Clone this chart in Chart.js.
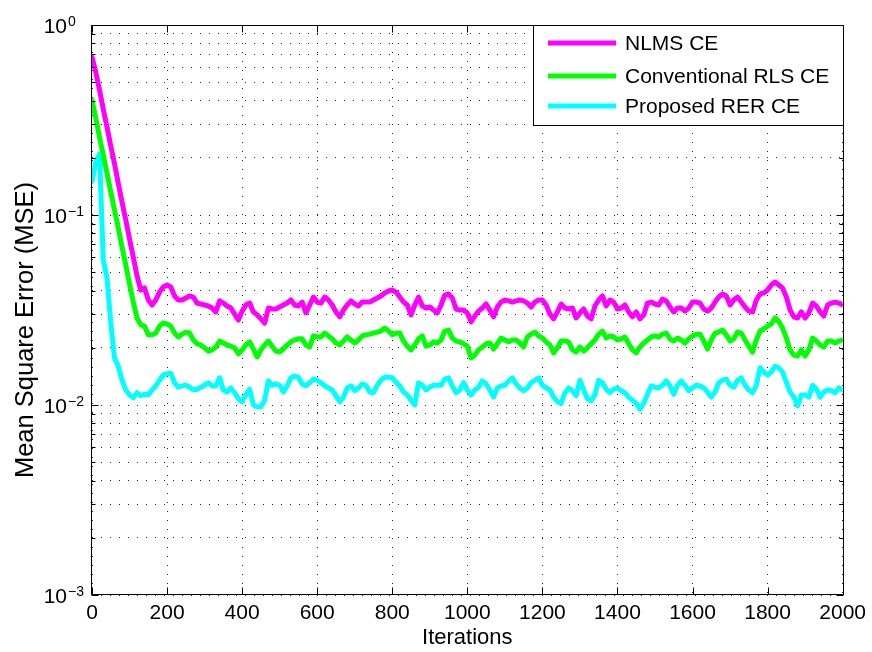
<!DOCTYPE html>
<html>
<head>
<meta charset="utf-8">
<script src="https://cdn.jsdelivr.net/npm/chart.js@4/dist/chart.umd.min.js"></script>
<style>
  body { margin: 0; background: #fff; }
  canvas { display: block; }
</style>
</head>
<body>
<canvas id="mseChart" width="872" height="652"></canvas>
<script>
// sampled every 10 iterations, 0..2000
const iterations = Array.from({ length: 201 }, (_, i) => i * 10);

const nlmsCE = [
  0.679, 0.566, 0.455, 0.361, 0.291, 0.231, 0.186, 0.147, 0.117, 0.094,
  0.0748, 0.0601, 0.0478, 0.0403, 0.0413, 0.0357, 0.0336, 0.0357, 0.0393, 0.0418,
  0.0428, 0.0418, 0.0375, 0.0357, 0.0357, 0.0366, 0.0375, 0.037, 0.0344, 0.034,
  0.0336, 0.0332, 0.0324, 0.0309, 0.0353, 0.0344, 0.0332, 0.0324, 0.0301, 0.028,
  0.0312, 0.0336, 0.0344, 0.0309, 0.0298, 0.0284, 0.027, 0.0324, 0.032, 0.032,
  0.0328, 0.0336, 0.0344, 0.0357, 0.0336, 0.0332, 0.0348, 0.0305, 0.0336, 0.037,
  0.0348, 0.0344, 0.037, 0.0357, 0.0336, 0.0309, 0.0291, 0.0316, 0.0336, 0.0353,
  0.034, 0.0332, 0.0348, 0.0348, 0.0348, 0.0357, 0.0366, 0.0375, 0.0389, 0.0398,
  0.0403, 0.0393, 0.037, 0.0348, 0.0336, 0.0298, 0.0336, 0.037, 0.0332, 0.0324,
  0.0328, 0.0316, 0.0305, 0.0336, 0.0379, 0.0384, 0.0366, 0.032, 0.0316, 0.0316,
  0.0305, 0.0274, 0.0294, 0.0312, 0.0324, 0.034, 0.0316, 0.0291, 0.0328, 0.0348,
  0.0357, 0.0353, 0.0348, 0.0353, 0.0357, 0.0353, 0.0344, 0.0328, 0.0348, 0.0357,
  0.0357, 0.0336, 0.0301, 0.0284, 0.0309, 0.034, 0.0324, 0.032, 0.0324, 0.0287,
  0.0305, 0.032, 0.0294, 0.0284, 0.0332, 0.0357, 0.0375, 0.0332, 0.0357, 0.0348,
  0.032, 0.0324, 0.0336, 0.0309, 0.0291, 0.0309, 0.0284, 0.0298, 0.0344, 0.0348,
  0.034, 0.0336, 0.0361, 0.0353, 0.0328, 0.0309, 0.0324, 0.0324, 0.0312, 0.0324,
  0.0348, 0.0348, 0.0344, 0.032, 0.0312, 0.0324, 0.0348, 0.037, 0.0384, 0.0375,
  0.0336, 0.0357, 0.037, 0.0348, 0.0328, 0.0312, 0.0309, 0.0357, 0.0384, 0.0389,
  0.0403, 0.0428, 0.0444, 0.0428, 0.0413, 0.037, 0.0316, 0.0291, 0.0287, 0.0309,
  0.0287, 0.0305, 0.0344, 0.0332, 0.0309, 0.0294, 0.0336, 0.0344, 0.0348, 0.0344,
  0.0336
];

const rlsCE = [
  0.403, 0.324, 0.257, 0.207, 0.166, 0.132, 0.106, 0.0855, 0.0679, 0.0546,
  0.0434, 0.0348, 0.0287, 0.0264, 0.026, 0.0234, 0.0234, 0.0239, 0.026, 0.027,
  0.0267, 0.026, 0.0239, 0.0228, 0.0236, 0.0242, 0.0239, 0.022, 0.021, 0.0207,
  0.02, 0.0192, 0.0195, 0.0202, 0.0217, 0.0212, 0.0207, 0.0204, 0.02, 0.0186,
  0.0195, 0.0207, 0.0215, 0.0197, 0.0179, 0.0195, 0.0207, 0.0217, 0.0204, 0.0192,
  0.019, 0.0197, 0.0207, 0.0215, 0.022, 0.0223, 0.0223, 0.0207, 0.0202, 0.0231,
  0.0228, 0.0228, 0.0239, 0.0231, 0.0223, 0.0212, 0.0207, 0.0217, 0.0228, 0.022,
  0.0212, 0.022, 0.0231, 0.0234, 0.0236, 0.0239, 0.0242, 0.0245, 0.0254, 0.0245,
  0.0234, 0.0239, 0.0239, 0.0217, 0.0204, 0.0195, 0.0207, 0.0223, 0.0231, 0.0204,
  0.0207, 0.0215, 0.0212, 0.022, 0.0245, 0.0248, 0.0225, 0.0217, 0.0215, 0.021,
  0.0204, 0.0177, 0.0183, 0.0195, 0.0202, 0.021, 0.0212, 0.0197, 0.021, 0.0225,
  0.022, 0.0215, 0.022, 0.022, 0.0212, 0.0202, 0.0228, 0.0236, 0.0242, 0.0231,
  0.0225, 0.0215, 0.0207, 0.0188, 0.02, 0.0217, 0.0217, 0.0215, 0.0195, 0.019,
  0.0202, 0.0192, 0.02, 0.021, 0.022, 0.0236, 0.0245, 0.0225, 0.0231, 0.0228,
  0.022, 0.0223, 0.0228, 0.021, 0.0195, 0.0188, 0.0202, 0.0212, 0.022, 0.0228,
  0.0231, 0.0228, 0.0236, 0.0239, 0.0223, 0.0217, 0.0225, 0.022, 0.0212, 0.0223,
  0.0231, 0.0236, 0.0236, 0.0217, 0.0197, 0.022, 0.0239, 0.0242, 0.0248, 0.0234,
  0.0217, 0.0223, 0.0242, 0.0239, 0.022, 0.0204, 0.019, 0.022, 0.0245, 0.0251,
  0.026, 0.0267, 0.0287, 0.0274, 0.0254, 0.0225, 0.0195, 0.0183, 0.0181, 0.0195,
  0.0181, 0.0195, 0.0225, 0.0217, 0.0207, 0.0202, 0.0217, 0.0217, 0.0212, 0.0217,
  0.022
];

const rerCE = [
  0.15, 0.19, 0.21, 0.058, 0.0466, 0.027, 0.0177, 0.016, 0.0135, 0.012,
  0.0113, 0.0109, 0.0116, 0.0112, 0.0114, 0.0113, 0.012, 0.0126, 0.0135, 0.0144,
  0.0146, 0.0147, 0.0131, 0.0124, 0.0126, 0.0127, 0.0124, 0.012, 0.0121, 0.0124,
  0.0127, 0.0131, 0.0126, 0.0126, 0.0139, 0.012, 0.0117, 0.0123, 0.0116, 0.0108,
  0.0104, 0.0113, 0.0121, 0.01, 0.0098, 0.0098, 0.0106, 0.0134, 0.0127, 0.0129,
  0.0127, 0.0117, 0.0126, 0.0139, 0.0142, 0.014, 0.0129, 0.0126, 0.0131, 0.0137,
  0.0135, 0.0131, 0.0126, 0.0123, 0.012, 0.0112, 0.0104, 0.011, 0.0123, 0.0126,
  0.0119, 0.0123, 0.0129, 0.0127, 0.0117, 0.0116, 0.0127, 0.0135, 0.014, 0.014,
  0.0139, 0.0132, 0.0126, 0.0117, 0.0113, 0.0106, 0.01, 0.0131, 0.0127, 0.012,
  0.0124, 0.0127, 0.0127, 0.0127, 0.0137, 0.0139, 0.0126, 0.0116, 0.012, 0.0131,
  0.012, 0.0113, 0.012, 0.0124, 0.0134, 0.0129, 0.012, 0.011, 0.0123, 0.0126,
  0.0127, 0.0134, 0.0139, 0.0129, 0.0123, 0.0119, 0.0123, 0.0131, 0.0135, 0.0139,
  0.0127, 0.0123, 0.012, 0.011, 0.0104, 0.0102, 0.0116, 0.0123, 0.0119, 0.0112,
  0.0135, 0.012, 0.0108, 0.0105, 0.0113, 0.0135, 0.0131, 0.0121, 0.0116, 0.0121,
  0.0123, 0.0119, 0.0116, 0.011, 0.0106, 0.0102, 0.0095, 0.0102, 0.0114, 0.0126,
  0.0124, 0.0123, 0.0127, 0.0134, 0.0126, 0.0114, 0.0127, 0.0134, 0.0127, 0.0119,
  0.0123, 0.0127, 0.0126, 0.0123, 0.0117, 0.011, 0.0117, 0.0131, 0.0135, 0.0137,
  0.0127, 0.0124, 0.0135, 0.0139, 0.0127, 0.012, 0.0116, 0.0127, 0.0157, 0.0149,
  0.0144, 0.0149, 0.016, 0.0157, 0.0149, 0.0132, 0.0117, 0.011, 0.0099, 0.0113,
  0.0113, 0.011, 0.0127, 0.0121, 0.011, 0.0117, 0.012, 0.0119, 0.0116, 0.0123,
  0.012
];

const seriesNames = ["NLMS CE", "Conventional RLS CE", "Proposed RER CE"];
const seriesColors = ["#ff00ff", "#00ff00", "#00ffff"];

const xTickValues = [0, 200, 400, 600, 800, 1000, 1200, 1400, 1600, 1800, 2000];
const yDecades = [1, 0.1, 0.01, 0.001];
const yExponents = ["0", "\u22121", "\u22122", "\u22123"];

const FONT = "'Liberation Sans', Arial, Helvetica, sans-serif";
Chart.defaults.font.family = FONT;
Chart.defaults.color = "#000";

// minor log grid: 1..9 x each decade
const yGridValues = [];
[0.001, 0.01, 0.1].forEach((d) => {
  for (let k = 1; k <= 9; k++) yGridValues.push(+(k * d).toPrecision(3));
});
yGridValues.push(1);

function toPoints(values) {
  return values.map((v, i) => ({ x: iterations[i], y: v }));
}

// box, inward ticks, y labels with exponents, y title and legend
const matlabAxes = {
  id: "matlabAxes",
  afterDraw(chart) {
    const { ctx, chartArea: a, scales } = chart;
    const x = scales.x;
    const y = scales.y;
    ctx.save();
    ctx.strokeStyle = "#000";
    ctx.lineWidth = 1;
    ctx.setLineDash([]);

    const L = Math.round(a.left) - 0.5;
    const R = Math.round(a.right) + 0.5;
    const T = Math.round(a.top) + 0.5;
    const B = Math.round(a.bottom) - 0.5;
    ctx.strokeRect(L, T, R - L, B - T);

    ctx.beginPath();
    yGridValues.forEach((v) => {
      const py = Math.round(y.getPixelForValue(v)) + 0.5;
      const len = yDecades.includes(v) ? 7 : 4;
      ctx.moveTo(L, py); ctx.lineTo(L + len, py);
      ctx.moveTo(R, py); ctx.lineTo(R - len, py);
    });
    xTickValues.forEach((v) => {
      const px = Math.round(x.getPixelForValue(v)) + 0.5;
      ctx.moveTo(px, B); ctx.lineTo(px, B - 7);
      ctx.moveTo(px, T); ctx.lineTo(px, T + 7);
    });
    ctx.stroke();

    // y tick labels: 10 with superscript exponent
    ctx.fillStyle = "#000";
    yDecades.forEach((v, i) => {
      const py = y.getPixelForValue(v);
      ctx.font = "21px " + FONT;
      ctx.textAlign = "right";
      ctx.textBaseline = "alphabetic";
      ctx.fillText("10", 67, py + 8);
      ctx.font = "14px " + FONT;
      ctx.textAlign = "left";
      ctx.fillText(yExponents[i], 68, py + 1);
    });

    // y axis title
    ctx.save();
    ctx.translate(26, 330);
    ctx.rotate(-Math.PI / 2);
    ctx.font = "25.5px " + FONT;
    ctx.textAlign = "center";
    ctx.textBaseline = "middle";
    ctx.fillText("Mean Square Error (MSE)", 0, 0);
    ctx.restore();

    // legend box in the top right corner
    const bx = 533.5, by = T, bw = R - bx, bh = 100;
    ctx.fillStyle = "#fff";
    ctx.fillRect(bx, by, bw, bh);
    ctx.strokeRect(bx, by, bw, bh);
    const rows = [43, 76, 106];
    chart.data.datasets.forEach((ds, i) => {
      ctx.strokeStyle = ds.borderColor;
      ctx.lineWidth = 5;
      ctx.beginPath();
      ctx.moveTo(548, rows[i]);
      ctx.lineTo(616, rows[i]);
      ctx.stroke();
      ctx.fillStyle = "#000";
      ctx.font = "21px " + FONT;
      ctx.textAlign = "left";
      ctx.textBaseline = "middle";
      ctx.fillText(ds.label, 625, rows[i] + 1);
    });
    ctx.restore();
  },
};

new Chart(document.getElementById("mseChart"), {
  type: "line",
  data: {
    datasets: [nlmsCE, rlsCE, rerCE].map((vals, i) => ({
      label: seriesNames[i],
      data: toPoints(vals),
      borderColor: seriesColors[i],
      backgroundColor: seriesColors[i],
      borderWidth: 5,
      pointRadius: 0,
      tension: 0,
      borderJoinStyle: "round",
      borderCapStyle: "round",
      fill: false,
    })),
  },
  options: {
    responsive: false,
    animation: false,
    layout: { padding: { top: 25, right: 27, left: 0, bottom: 0 } },
    plugins: {
      legend: { display: false },
      tooltip: { enabled: false },
    },
    scales: {
      x: {
        type: "linear",
        min: 0,
        max: 2000,
        afterBuildTicks: (s) => {
          s.ticks = xTickValues.map((v) => ({ value: v }));
        },
        afterFit: (s) => {
          s.height = 57;
        },
        grid: { color: "rgba(0,0,0,0.85)", drawTicks: false },
        border: { display: false, dash: [1, 8] },
        ticks: {
          font: { size: 21 },
          color: "#000",
          padding: 6,
          maxRotation: 0,
          callback: (v) => String(v),
        },
        title: {
          display: true,
          text: "Iterations",
          font: { size: 22 },
          color: "#000",
          padding: { top: 0, bottom: 1 },
        },
      },
      y: {
        type: "logarithmic",
        min: 0.001,
        max: 1,
        afterBuildTicks: (s) => {
          s.ticks = yGridValues.map((v) => ({ value: v }));
        },
        afterFit: (s) => {
          s.width = 92;
        },
        grid: { color: "rgba(0,0,0,0.85)", drawTicks: false },
        border: { display: false, dash: [1, 8] },
        ticks: { display: false },
      },
    },
  },
  plugins: [matlabAxes],
});
</script>
</body>
</html>
